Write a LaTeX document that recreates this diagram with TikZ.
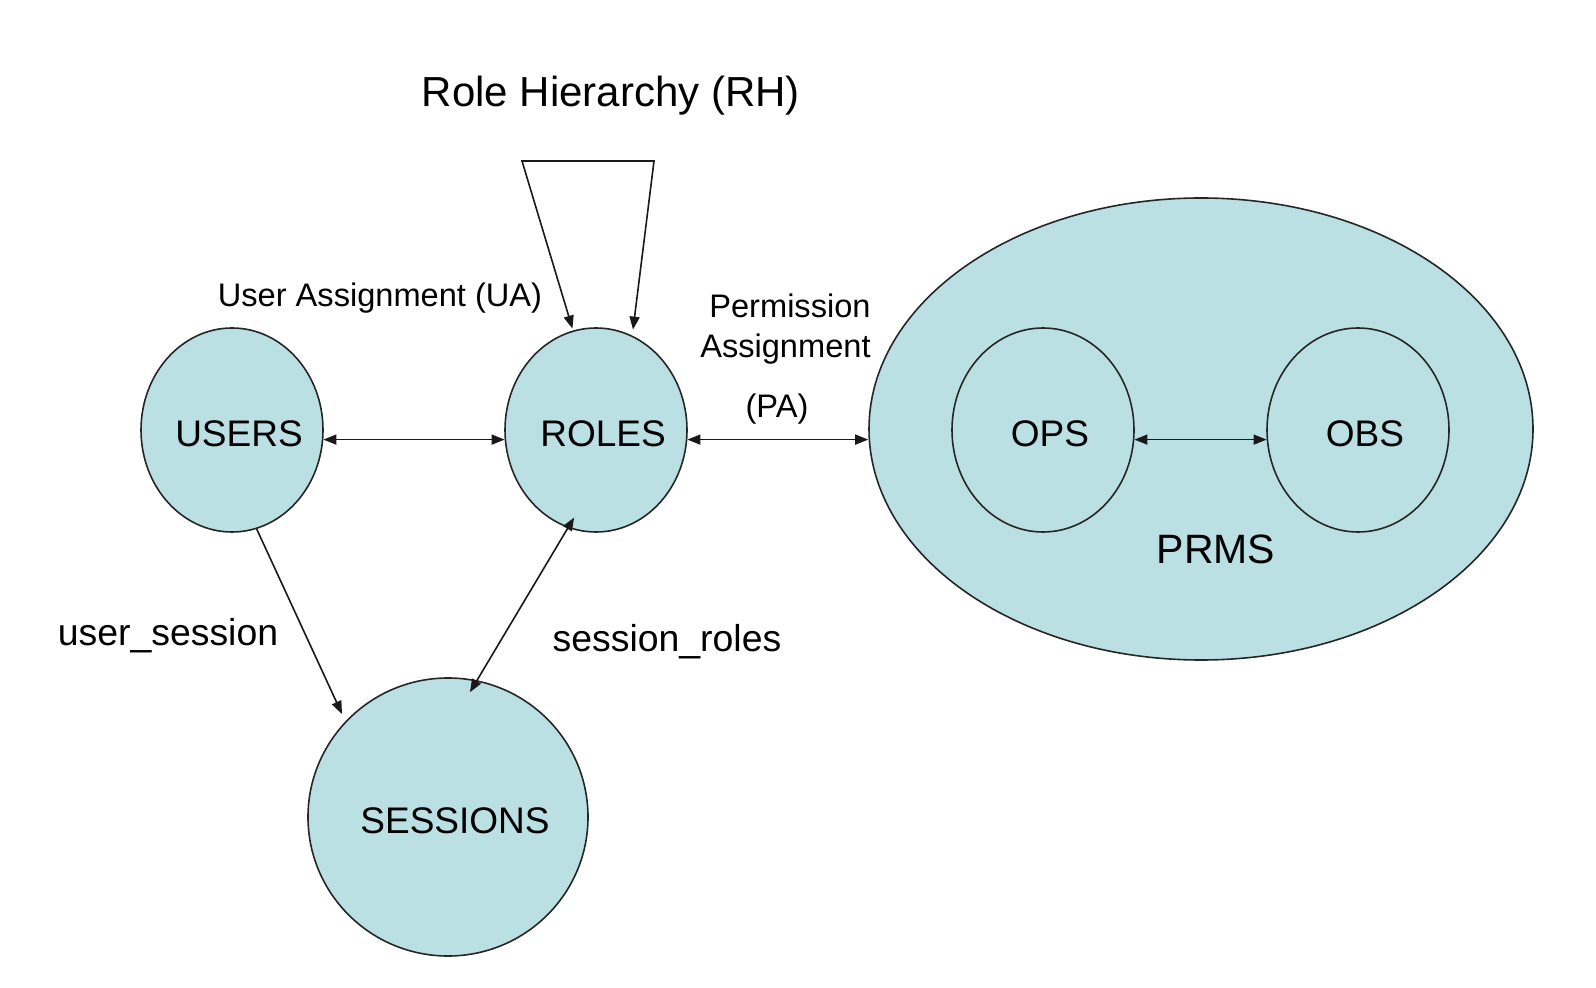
\documentclass[tikz,border=0pt]{standalone}
\usepackage{fontspec}
\setmainfont{Liberation Sans}
\usetikzlibrary{shapes.geometric,arrows.meta}
\definecolor{setfill}{RGB}{187,224,227}

\begin{document}
\begin{tikzpicture}
[every node/.style={inner sep=0pt},
 set/.style={ellipse, fill=setfill, line width=0.8pt, draw=black!85, font=\fontsize{18.5}{22}\selectfont,
   inner xsep=-12pt, inner ysep=-6pt,
   text height=16.2pt, text depth=0pt, execute at begin node={\hspace*{7pt}}},
 small/.style={minimum width=91pt, minimum height=102pt},
 rel/.style={line width=0.8pt, color=black!90},
 >={Triangle[length=6.5pt,width=5pt]}]
\useasboundingbox (0pt,0pt) rectangle (798pt,-494pt);
\node (prms) [set, minimum width=332pt, minimum height=231pt] at (600.5pt, -214.5pt) {};
\node (ops) [set, small] at (521.5pt, -215pt) {OPS};
\node (obs) [set, small] at (679pt, -215pt) {OBS};
\node (prmstext) [font=\fontsize{20.5}{24}\selectfont] at (608pt, -274.5pt) {PRMS};
\node (users) [set, small] at (116pt, -215pt) {USERS};
\node (roles) [set, small] at (298pt, -215pt) {ROLES};
\node (sessions) [set, minimum width=140pt, minimum height=139pt] at (224pt, -408.5pt) {SESSIONS};
\node (rh) [font=\fontsize{21}{25}\selectfont] at (305.5pt, -47.6pt) {Role Hierarchy (RH)};
\node (ua) [font=\fontsize{16.3}{20}\selectfont] at (190pt, -149pt) {User Assignment (UA)};
\node (pa) [font=\fontsize{16.3}{20}\selectfont, align=right, anchor=east] at (435.5pt, -164.6pt) {Permission\\Assignment};
\node (pashort) [font=\fontsize{16.3}{20}\selectfont] at (388.5pt, -204.6pt) {(PA)};
\node (us) [font=\fontsize{18.7}{22}\selectfont] at (84pt, -317.6pt) {user\_session};
\node (sr) [font=\fontsize{18.7}{22}\selectfont] at (333.5pt, -320.8pt) {session\_roles};
\coordinate (rhleft) at (261pt, -80.5pt);
\coordinate (rhright) at (327pt, -80.5pt);
\draw [rel, <->, shorten <=1pt, shorten >=3pt] (roles.103) -- (rhleft) -- (rhright) -- (roles.69);
\draw [rel, <->] (users.-6) -- (roles.186);
\draw [rel, <->] (roles.-6) -- (roles.-6 -| prms.west);
\draw [rel, <->] (ops.-6) -- (obs.186);
\draw [rel, ->, shorten >=4pt] (users.-76) -- (sessions.137);
\draw [rel, <->, shorten <=-7pt, shorten >=-6pt] (sessions.78) -- (roles.-106);
\end{tikzpicture}
\end{document}
